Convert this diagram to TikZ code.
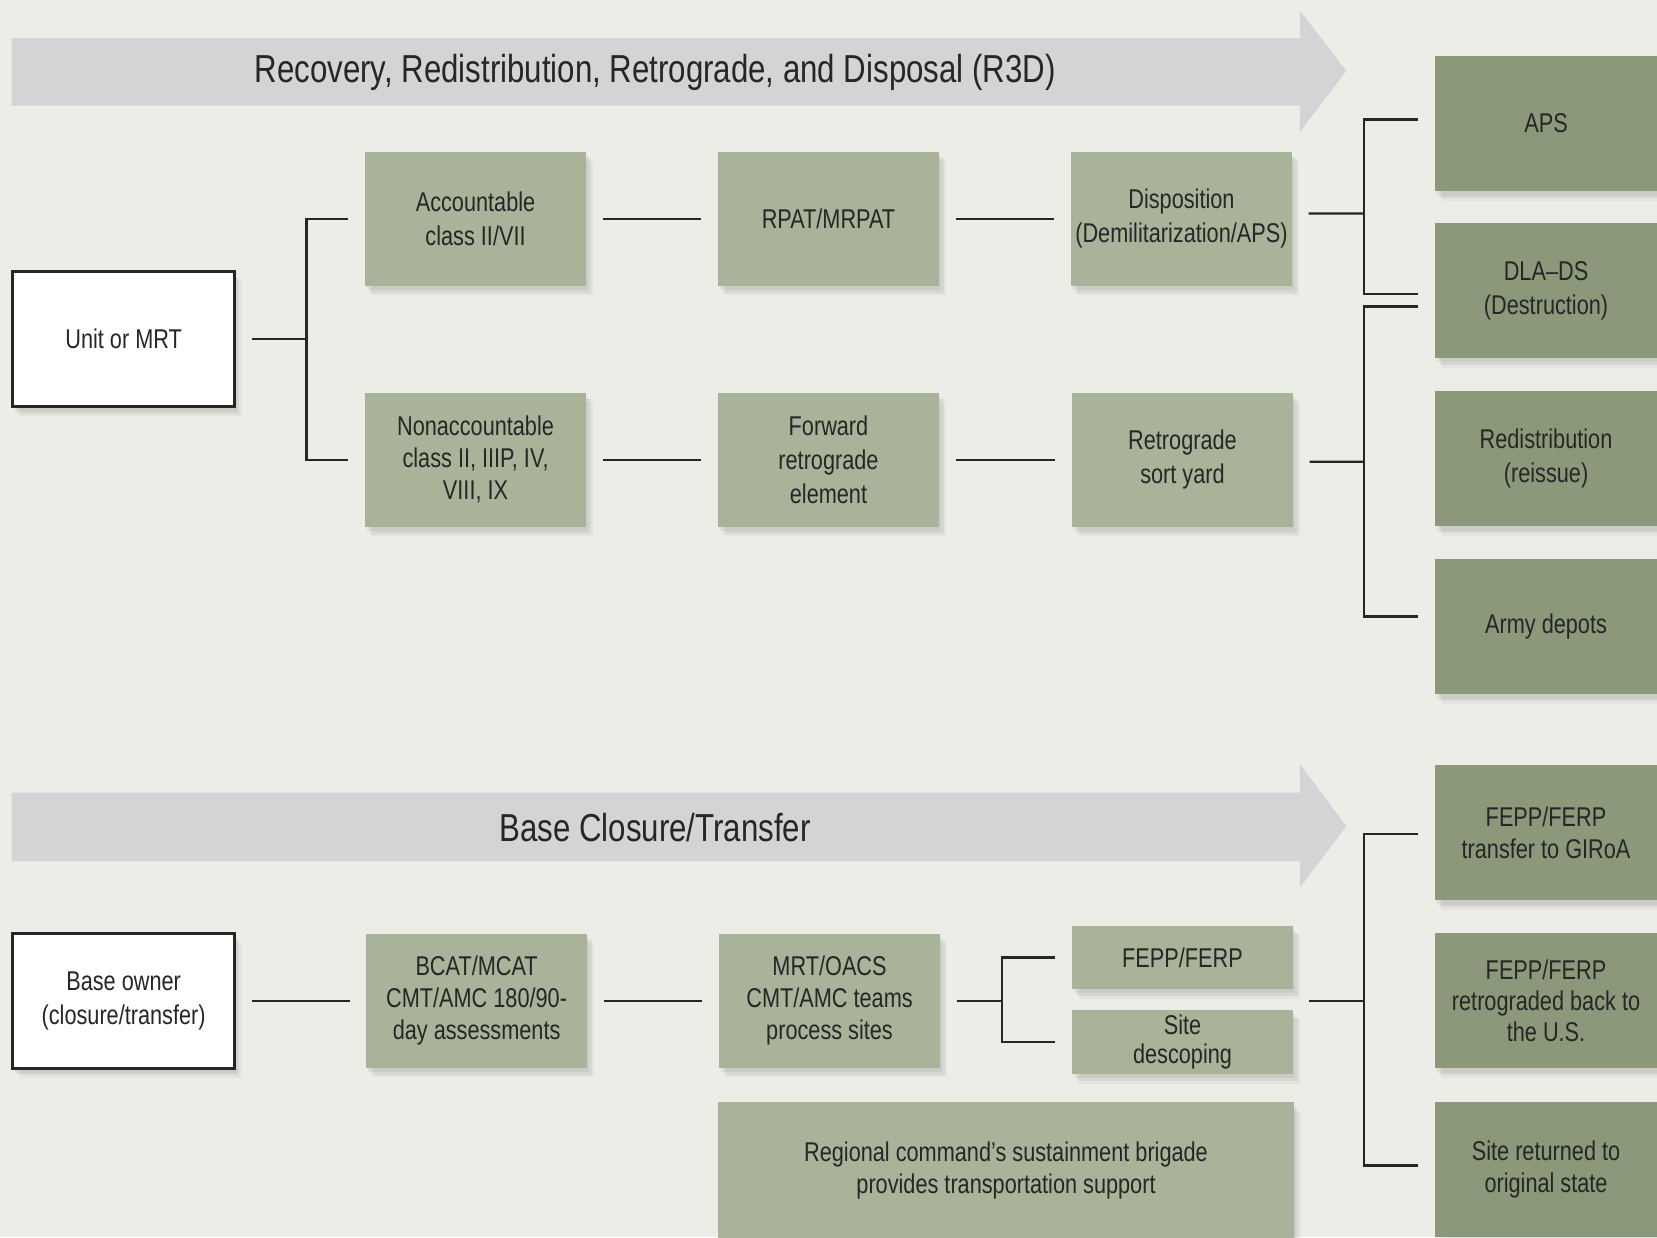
\documentclass[tikz,border=0pt]{standalone}
\usepackage{fontspec}
\setmainfont{Liberation Sans}[FakeStretch=0.8]
\usepackage{tikz}
\usetikzlibrary{shadows}

\definecolor{bgcol}{HTML}{ECEDE7}
\definecolor{bandcol}{HTML}{D3D4D6}
\definecolor{sage}{HTML}{A8B399}
\definecolor{darksage}{HTML}{8B9879}
\definecolor{inkcol}{HTML}{262626}

\begin{document}
\begin{tikzpicture}[x=0.01cm, y=-0.01cm, font=\fontsize{7.3}{9.2}\selectfont, text=inkcol,
	box/.style={fill=sage, minimum width=2.09cm, minimum height=1.27cm, align=center, inner sep=0pt,
		drop shadow={shadow xshift=.02cm, shadow yshift=-.04cm, opacity=.12},
		drop shadow={shadow xshift=.045cm, shadow yshift=-.065cm, opacity=.12},
		drop shadow={shadow xshift=.07cm, shadow yshift=-.09cm, opacity=.08}},
	endbox/.style={box, fill=darksage, minimum width=2.1cm, minimum height=1.28cm},
	ownerbox/.style={box, fill=white, draw=inkcol, line width=0.8pt, minimum width=2.1cm, minimum height=1.28cm},
	link/.style={draw=inkcol, line width=0.6pt},
	title/.style={font=\fontsize{10.5}{12}\selectfont}]
			\useasboundingbox (0,0) rectangle (1568,1171);
			\clip (0,0) rectangle (1568,1171);
			\fill[bgcol] (0,0) rectangle (1568,1171);
			
			\fill[bandcol] (11,36) -- (1230,36) -- (1230,10) -- (1274,67) -- (1230,125) -- (1230,100) -- (11,100) -- cycle;
			\node[title] (r3d) at (620,69) {Recovery, Redistribution, Retrograde, and Disposal (R3D)};
			
			\node[ownerbox] (unit) at (117,321) {Unit or MRT};
			\node[box] (acc) at (450,207) {Accountable\\class II/VII};
			\node[box, font=\fontsize{7.3}{8.6}\selectfont] (nonacc) at (450,435) {Nonaccountable\\class II, IIIP, IV,\\VIII, IX};
			\node[box] (rpat) at (784,207) {RPAT/MRPAT};
			\node[box] (fwd) at (784,435) {Forward\\retrograde\\element};
			\node[box] (dispo) at (1118,207) {Disposition\\(Demilitarization/APS)};
			\node[box] (sort) at (1119,435) {Retrograde\\sort yard};
			\node[endbox] (aps) at (1463,117) {APS};
			\node[endbox] (dla) at (1463,275) {DLA–DS\\(Destruction)};
			\node[endbox] (redis) at (1463,434) {Redistribution\\(reissue)};
			\node[endbox] (depots) at (1463,593) {Army depots};
			
			\coordinate (split1) at (290,321);
			\draw[link] ([xshift=.15cm]unit.east) -- (split1);
			\draw[link] ([xshift=-.15cm]acc.west) -| (split1) |- ([xshift=-.15cm]nonacc.west);
			\draw[link] ([xshift=.15cm]acc.east) -- ([xshift=-.15cm]rpat.west);
			\draw[link] ([xshift=.15cm]rpat.east) -- ([xshift=-.15cm]dispo.west);
			\draw[link] ([xshift=.15cm]nonacc.east) -- ([xshift=-.15cm]fwd.west);
			\draw[link] ([xshift=.15cm]fwd.east) -- ([xshift=-.15cm]sort.west);
			
			\coordinate (split2) at (1291,202);
			\draw[link] ([xshift=.15cm,yshift=.05cm]dispo.east) -- (split2);
			\draw[link] ([xshift=-.15cm,yshift=.04cm]aps.west) -| (split2) |- ([xshift=-.15cm,yshift=-.03cm]dla.west);
			\coordinate (split3) at (1291,437);
			\draw[link] ([xshift=.15cm,yshift=-.02cm]sort.east) -- (split3);
			\draw[link] ([xshift=-.15cm,yshift=-.15cm]dla.west) -| (split3) |- ([xshift=-.15cm,yshift=.095cm]depots.west);
			
			\fill[bandcol] (11,750) -- (1230,750) -- (1230,723) -- (1274,782) -- (1230,840) -- (1230,815) -- (11,815) -- cycle;
			\node[title] (base) at (620,783) {Base Closure/Transfer};
			
			\node[ownerbox] (owner) at (117,947) {Base owner\\(closure/transfer)};
			\node[box, font=\fontsize{7.3}{8.6}\selectfont] (bcat) at (451,947) {BCAT/MCAT\\CMT/AMC 180/90-\\day assessments};
			\node[box, font=\fontsize{7.3}{8.6}\selectfont] (mrt) at (785,947) {MRT/OACS\\CMT/AMC teams\\process sites};
			\node[box, minimum height=0.6cm] (fepp) at (1119,906) {FEPP/FERP};
			\node[box, minimum height=0.61cm, font=\fontsize{7.3}{7.8}\selectfont] (descope) at (1119,986) {Site\\descoping};
			\node[box, minimum width=5.44cm, minimum height=1.3cm, font=\fontsize{7.3}{8.6}\selectfont] (regional) at (952,1108) {Regional command’s sustainment brigade\\provides transportation support};
			\node[endbox, font=\fontsize{7.3}{8.4}\selectfont] (giroa) at (1463,788) {FEPP/FERP\\transfer to GIRoA};
			\node[endbox, font=\fontsize{7.3}{8.4}\selectfont] (usret) at (1463,947) {FEPP/FERP\\retrograded back to\\the U.S.};
			\node[endbox, font=\fontsize{7.3}{8.6}\selectfont] (orig) at (1463,1107) {Site returned to\\original state};
			
			\draw[link] ([xshift=.15cm]owner.east) -- ([xshift=-.15cm]bcat.west);
			\draw[link] ([xshift=.15cm]bcat.east) -- ([xshift=-.15cm]mrt.west);
			\coordinate (split4) at (948,947);
			\draw[link] ([xshift=.15cm]mrt.east) -- (split4);
			\draw[link] ([xshift=-.15cm]fepp.west) -| (split4) |- ([xshift=-.15cm]descope.west);
			\coordinate (pairout) at (1239,947);
			\coordinate (split5) at (1291,947);
			\draw[link] (pairout) -- (split5);
			\draw[link] ([xshift=-.15cm,yshift=-.015cm]giroa.west) -| (split5) |- ([xshift=-.15cm,yshift=.04cm]orig.west);
		\end{tikzpicture}
\end{document}
